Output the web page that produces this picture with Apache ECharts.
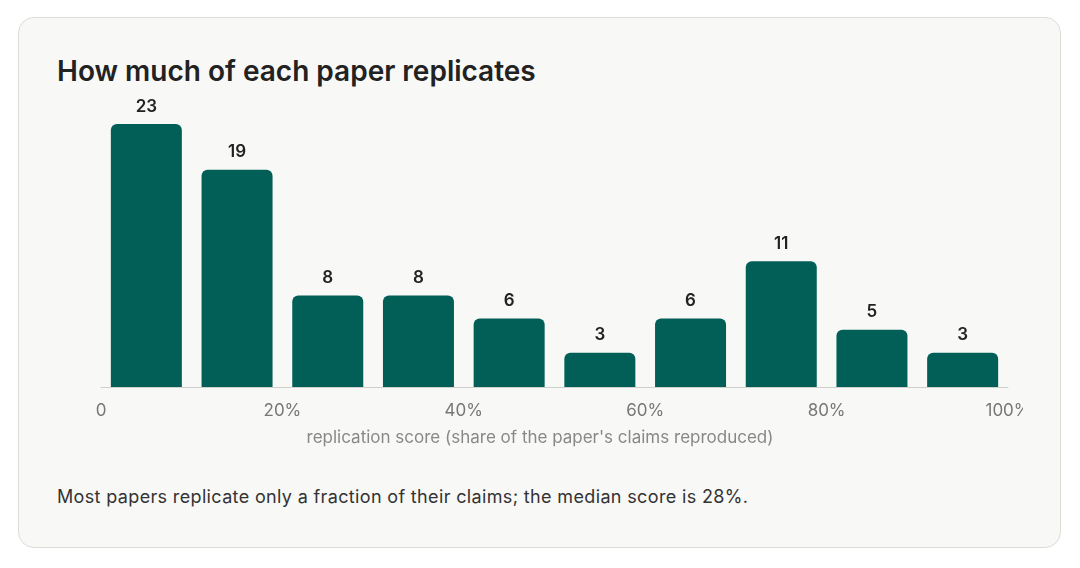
<!DOCTYPE html>
<html>
<head>
<meta charset="utf-8">
<script src="https://cdn.jsdelivr.net/npm/echarts@6/dist/echarts.min.js"></script>
<style>
  html, body { margin: 0; padding: 0; background: #ffffff; width: 1080px; height: 568px; overflow: hidden; font-family: Inter, "Noto Sans", sans-serif; }
  #card { position: absolute; left: 18px; top: 17px; width: 1041px; height: 529px; border: 1px solid #dcdcd8; border-radius: 16px; background: #f8f8f6; }
  #title { position: absolute; left: 57px; top: 54px; font-size: 28px; font-weight: 600; color: #222222; white-space: nowrap; }
  #note { position: absolute; left: 57px; top: 486px; font-size: 18px; letter-spacing: 0.35px; color: #333333; white-space: nowrap; }
  #chart { position: absolute; left: 0; top: 90px; width: 1023px; height: 370px; }
</style>
</head>
<body>
<div id="card"></div>
<div id="title">How much of each paper replicates</div>
<div id="chart"></div>
<div id="note">Most papers replicate only a fraction of their claims; the median score is 28%.</div>
<script>
const binCenters = [5, 15, 25, 35, 45, 55, 65, 75, 85, 95];
const counts = [23, 19, 8, 8, 6, 3, 6, 11, 5, 3];
const xTicks = [0, 20, 40, 60, 80, 100];
const xAxisName = "replication score (share of the paper's claims reproduced)";

const chart = echarts.init(document.getElementById('chart'));
chart.setOption({
  animation: false,
  textStyle: { fontFamily: 'Inter' },
  grid: { left: 101, right: 15, top: 34, height: 263, outerBoundsMode: 'none', containLabel: false },
  xAxis: {
    type: 'value', min: 0, max: 100, interval: 20,
    axisLine: { show: true, lineStyle: { color: '#cfcfcb', width: 1 } },
    axisTick: { show: false },
    splitLine: { show: false },
    axisLabel: { color: '#777777', fontSize: 17, margin: 15,
      formatter: v => xTicks.includes(v) ? (v === 0 ? '0' : v + '%') : '' },
    name: xAxisName, nameLocation: 'middle', nameGap: 42,
    nameTextStyle: { color: '#888888', fontSize: 17, padding: [0, 29, 0, 0] }
  },
  yAxis: { type: 'value', min: 0, max: 23, show: false, splitLine: { show: false } },
  series: [{
    type: 'bar',
    data: binCenters.map((c, i) => [c, counts[i]]),
    barWidth: 71,
    itemStyle: { color: '#015f58', borderRadius: [6, 6, 0, 0] },
    label: { show: true, position: 'top', distance: 9, color: '#222222', fontSize: 17, fontWeight: 600 }
  }]
});
</script>
</body>
</html>
